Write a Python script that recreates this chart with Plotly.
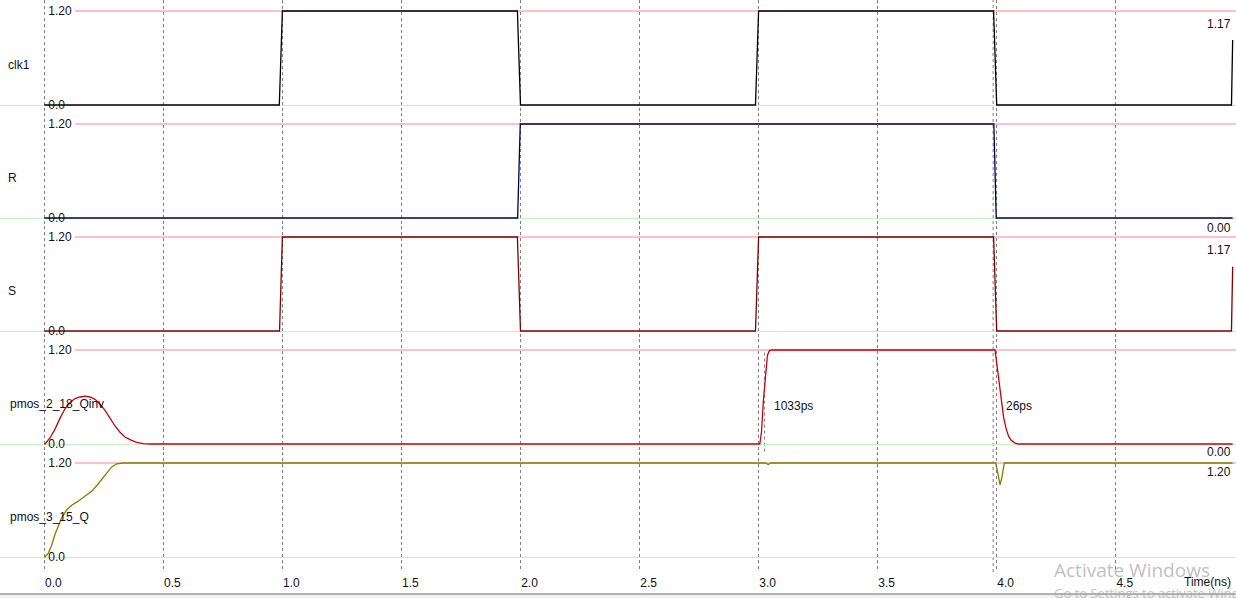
import plotly.graph_objects as go

# ---------------- data (time in ns, voltage in V) ----------------
signal_names = ["clk1", "R", "S", "pmos_2_18_Qinv", "pmos_3_15_Q"]

t_clk1 = [0, 0.987, 1.0, 1.987, 2.0, 2.987, 3.0, 3.987, 4.0, 4.986, 4.991]
v_clk1 = [0, 0, 1.2, 1.2, 0, 0, 1.2, 1.2, 0, 0, 0.83]

t_R = [0, 1.988, 1.999, 3.988, 3.998, 4.991]
v_R = [0, 0, 1.2, 1.2, 0, 0]

t_S = [0, 0.988, 1.0, 1.987, 2.0, 2.987, 3.0, 3.987, 4.0, 4.986, 4.991]
v_S = [0, 0, 1.2, 1.2, 0, 0, 1.2, 1.2, 0, 0, 0.82]

t_Qinv = [0, 0.003, 0.024, 0.045, 0.066, 0.087, 0.108, 0.129, 0.150, 0.171, 0.192,
          0.213, 0.234, 0.255, 0.276, 0.297, 0.318, 0.339, 0.360, 0.388, 0.416, 0.444,
          3.005, 3.012, 3.020, 3.030, 3.037, 3.045, 3.055,
          3.993, 3.999, 4.006, 4.012, 4.018, 4.029, 4.040, 4.050, 4.060, 4.075, 4.090, 4.991]
v_Qinv = [0, 0, 0.077, 0.19, 0.33, 0.45, 0.53, 0.58, 0.60, 0.61, 0.60,
          0.57, 0.51, 0.43, 0.33, 0.23, 0.15, 0.09, 0.055, 0.02, 0.005, 0,
          0, 0.15, 0.55, 0.95, 1.13, 1.19, 1.2,
          1.2, 1.05, 0.88, 0.78, 0.60, 0.34, 0.19, 0.10, 0.05, 0.015, 0, 0]

t_Q = [0, 0.003, 0.017, 0.031, 0.045, 0.059, 0.073, 0.094, 0.115, 0.136, 0.157, 0.178,
       0.199, 0.220, 0.241, 0.262, 0.283, 0.304, 0.332,
       3.030, 3.040, 3.052, 3.996, 4.006, 4.014, 4.022, 4.032, 4.991]
v_Q = [0, 0, 0.05, 0.15, 0.29, 0.40, 0.50, 0.60, 0.66, 0.70, 0.75, 0.79,
       0.84, 0.91, 0.99, 1.08, 1.15, 1.19, 1.2,
       1.2, 1.18, 1.2, 1.2, 1.05, 0.92, 1.02, 1.2, 1.2]

series_t = [t_clk1, t_R, t_S, t_Qinv, t_Q]
series_v = [v_clk1, v_R, v_S, v_Qinv, v_Q]
colors = ["#000000", "#00004f", "#800000", "#cc0011", "#808000"]

x_ticks = [0, 0.5, 1.0, 1.5, 2.0, 2.5, 3.0, 3.5, 4.0, 4.5]
x_ticktext = ["0.0", "0.5", "1.0", "1.5", "2.0", "2.5", "3.0", "3.5", "4.0", "4.5"]
y_ticks = [0, 1.2]
y_ticktext = ["0.0", "1.20"]

right_labels = ["1.17", "0.00", "1.17", "0.00", "1.20"]
right_label_px = [24, 228, 250, 452, 472]
measure_labels = ["1033ps", "26ps"]
measure_t = [3.055, 4.03]

# ---------------- layout geometry (pixels) ----------------
W, H = 1236, 598
T0_PX = 44.3            # pixel x of t = 0
PX_PER_NS = 238.1
PITCH = 113.0
ZERO0 = 105.0           # pixel y of the zero line of the first panel
PPV = 94.0 / 1.2        # pixels per volt
GRID_BOTTOM = 572.0

FONT = "Liberation Sans, Arial, sans-serif"
TXT = "#111111"

x_range = [(0 - T0_PX) / PX_PER_NS, (W - T0_PX) / PX_PER_NS]


def py(px):
    return 1 - px / H


fig = go.Figure()
layout = dict(
    width=W, height=H, margin=dict(l=0, r=0, t=0, b=0),
    paper_bgcolor="white", plot_bgcolor="white", showlegend=False,
    font=dict(family=FONT, size=12, color=TXT),
)

annotations = []
shapes = []
for k in range(5):
    yname = "y" if k == 0 else f"y{k+1}"
    lname = "yaxis" if k == 0 else f"yaxis{k+1}"
    top = PITCH * k
    bottom = PITCH * (k + 1) if k < 4 else GRID_BOTTOM
    zero = ZERO0 + PITCH * k
    layout[lname] = dict(
        domain=[py(bottom), py(top)],
        range=[(zero - bottom) / PPV, (zero - top) / PPV],
        anchor="free", position=T0_PX / W, side="right",
        tickvals=y_ticks, ticktext=y_ticktext,
        ticklabelposition="outside", ticks="", ticklabelstandoff=3,
        showgrid=False, showline=False,
        zeroline=True, zerolinecolor="#c8f0c8", zerolinewidth=1,
        tickfont=dict(family=FONT, size=12, color=TXT),
        fixedrange=True,
    )
    fig.add_trace(go.Scatter(
        x=series_t[k], y=series_v[k], mode="lines",
        line=dict(color=colors[k], width=1.3),
        xaxis="x", yaxis=yname, hoverinfo="skip",
    ))
    # pink 1.2 reference line
    shapes.append(dict(type="line", xref="x", yref=yname,
                       x0=(75 - T0_PX) / PX_PER_NS, x1=x_range[1], y0=1.2, y1=1.2,
                       line=dict(color="#ffc0c8", width=2), layer="below"))
    # signal name
    annotations.append(dict(text=signal_names[k], xref="paper", yref="paper",
                            x=(6 if k < 3 else 8) / W, y=py(zero - 40),
                            xanchor="left", yanchor="middle", showarrow=False,
                            font=dict(family=FONT, size=12, color=TXT)))
    # right value label
    annotations.append(dict(text=right_labels[k], xref="paper", yref="paper",
                            x=1233 / W, y=py(right_label_px[k]),
                            xanchor="right", yanchor="middle", showarrow=False,
                            font=dict(family=FONT, size=12, color=TXT)))

layout["xaxis"] = dict(
    domain=[0, 1], range=x_range, anchor="y5",
    tickvals=x_ticks, ticktext=x_ticktext, ticks="",
    showgrid=True, gridcolor="#808080", gridwidth=1, griddash="3px,3px",
    zeroline=False, showline=False, ticklabelshift=9, ticklabelstandoff=2,
    tickfont=dict(family=FONT, size=12, color=TXT), fixedrange=True,
)

# measurement labels on Qinv panel
for lab, tm in zip(measure_labels, measure_t):
    annotations.append(dict(text=lab, xref="x", yref="y4", x=tm, y=0.48,
                            xanchor="left", yanchor="middle", showarrow=False,
                            font=dict(family=FONT, size=12, color=TXT)))

# cursor / measurement marker lines
shapes.append(dict(type="line", xref="x", yref="paper", x0=3.985, x1=3.985,
                   y0=py(GRID_BOTTOM), y1=1,
                   line=dict(color="#808080", width=1, dash="3px,3px"), layer="below"))
shapes.append(dict(type="line", xref="x", yref="y4", x0=3.025, x1=3.025,
                   y0=-0.25, y1=1.2,
                   line=dict(color="#808080", width=1, dash="3px,3px"), layer="below"))

annotations.append(dict(text="Time(ns)", xref="paper", yref="paper", x=1233 / W, y=py(582),
                        xanchor="right", yanchor="middle", showarrow=False,
                        font=dict(family=FONT, size=12, color=TXT)))

# bottom window edge
shapes.append(dict(type="rect", xref="paper", yref="paper", x0=0, x1=1, y0=0, y1=py(594),
                   fillcolor="#f0f0f0", line=dict(width=0), layer="above"))
shapes.append(dict(type="line", xref="paper", yref="paper", x0=0, x1=1, y0=py(594), y1=py(594),
                   line=dict(color="#9a9a9a", width=1.5), layer="above"))

# OS watermark text
annotations.append(dict(text="Activate Windows", xref="paper", yref="paper",
                        x=1052 / W, y=py(570), xanchor="left", yanchor="middle",
                        showarrow=False,
                        font=dict(family="Open Sans, sans-serif", size=19, color="rgba(170,170,170,0.75)")))
annotations.append(dict(text="Go to Settings to activate Windows.", xref="paper", yref="paper",
                        x=1052 / W, y=py(593), xanchor="left", yanchor="middle",
                        showarrow=False,
                        font=dict(family="Open Sans, sans-serif", size=13, color="rgba(170,170,170,0.75)")))

layout["annotations"] = annotations
layout["shapes"] = shapes
fig.update_layout(**layout)

fig.write_html("out.html", config={"displayModeBar": False})
